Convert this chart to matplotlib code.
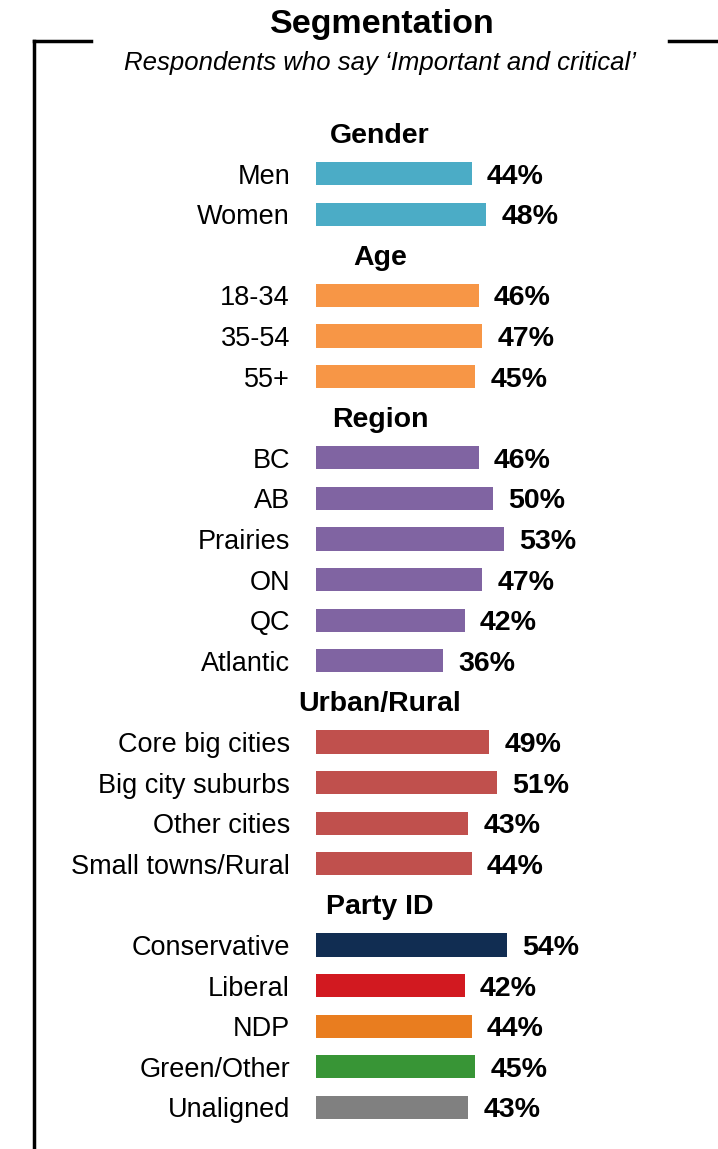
import matplotlib.pyplot as plt
from matplotlib.lines import Line2D

plt.rcParams['font.family'] = ['Liberation Sans', 'DejaVu Sans']

# Data
groups = ["Gender", "Age", "Region", "Urban/Rural", "Party ID"]
labels = [
    ["Men", "Women"],
    ["18-34", "35-54", "55+"],
    ["BC", "AB", "Prairies", "ON", "QC", "Atlantic"],
    ["Core big cities", "Big city suburbs", "Other cities", "Small towns/Rural"],
    ["Conservative", "Liberal", "NDP", "Green/Other", "Unaligned"],
]
values = [
    [44, 48],
    [46, 47, 45],
    [46, 50, 53, 47, 42, 36],
    [49, 51, 43, 44],
    [54, 42, 44, 45, 43],
]
colors = [
    ["#4BACC6"] * 2,
    ["#F79646"] * 3,
    ["#8064A2"] * 6,
    ["#C0504D"] * 4,
    ["#112D52", "#D21920", "#E97D1F", "#389536", "#808080"],
]

W, H = 718, 1149
fig = plt.figure(figsize=(W / 100, H / 100), dpi=100)
ax = fig.add_axes([0, 0, 1, 1])

# pixel geometry -> data scale
px_per_pct = 3.54
x0_px = 316
row_px = 40.6
row0_px = 133
ax.set_xlim(-x0_px / px_per_pct, (W - x0_px) / px_per_pct)
ax.set_ylim((H - row0_px) / row_px, -row0_px / row_px)
ax.axis("off")

header_x = (380 - x0_px) / px_per_pct
label_x = (290 - x0_px) / px_per_pct
dy = -2.2  # points, text sits a little low in the original

row = 0
for g, labs, vals, cols in zip(groups, labels, values, colors):
    ax.annotate(g, (header_x, row), xytext=(0, dy), textcoords="offset points",
                ha="center", va="center", fontsize=20.5, fontweight="bold")
    row += 1
    for lab, v, c in zip(labs, vals, cols):
        ax.barh(row, v, height=0.57, color=c)
        ax.annotate(lab, (label_x, row), xytext=(0, dy), textcoords="offset points",
                    ha="right", va="center", fontsize=19.5)
        ax.annotate(f"{v}%", (v, row), xytext=(11, dy), textcoords="offset points",
                    ha="left", va="center", fontsize=20.5, fontweight="bold")
        row += 1

fig.text(382 / W, 1 - 24 / H, "Segmentation", ha="center", va="center",
         fontsize=24.5, fontweight="bold")
fig.text(380 / W, 1 - 63 / H, "Respondents who say \u2018Important and critical\u2019",
         ha="center", va="center", fontsize=18.5, style="italic")

# frame lines
ly = 1 - 40.5 / H
lx = 33.5 / W
fig.add_artist(Line2D([lx, lx], [ly, 0], color="black", lw=2.5,
                      transform=fig.transFigure, solid_capstyle="projecting"))
fig.add_artist(Line2D([lx, 91 / W], [ly, ly], color="black", lw=2.5,
                      transform=fig.transFigure, solid_capstyle="projecting"))
fig.add_artist(Line2D([669 / W, 1], [ly, ly], color="black", lw=2.5,
                      transform=fig.transFigure))

fig.savefig("out.png", dpi=100)
